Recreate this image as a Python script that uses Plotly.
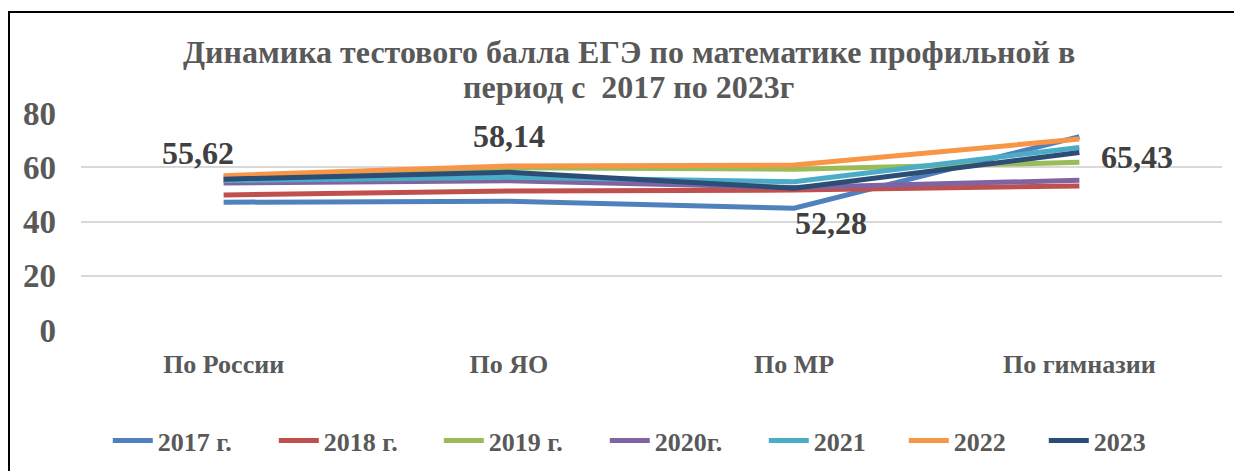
import plotly.graph_objects as go

# categories and values
categories = ["По России", "По ЯО", "По МР", "По гимназии"]
series_names = ["2017 г.", "2018 г.", "2019 г.", "2020г.", "2021", "2022", "2023"]
v2017 = [47.1, 47.5, 44.9, 71.3]
v2018 = [49.8, 51.2, 51.6, 53.1]
v2019 = [56.5, 59.8, 59.3, 61.8]
v2020 = [54.2, 55.0, 52.5, 55.2]
v2021 = [55.1, 56.3, 54.7, 67.3]
v2022 = [56.9, 60.5, 60.8, 70.4]
v2023 = [55.62, 58.14, 52.28, 65.43]
label_text = ["55,62", "58,14", "52,28", "65,43"]
title_lines = ["Динамика тестового балла ЕГЭ по математике профильной в",
               "период с  2017 по 2023г"]

colors = ["#4F81BD", "#C0504D", "#9BBB59", "#8064A2", "#4BACC6", "#F79646", "#2C4D75"]
legend_widths = [111, 110, 111, 104, 85, 85, 85]
all_values = [v2017, v2018, v2019, v2020, v2021, v2022, v2023]

serif = "Liberation Serif, Times New Roman, serif"
grey = "#595959"

fig = go.Figure()
for name, vals, col, lw in zip(series_names, all_values, colors, legend_widths):
    fig.add_trace(go.Scatter(x=categories, y=vals, mode="lines", name=name,
                             line=dict(color=col, width=5), legendwidth=lw))

# data labels for the 2023 series
shifts = [(-26, 26), (0, 36), (37, -35), (58, -4)]
for cat, val, txt, (dx, dy) in zip(categories, v2023, label_text, shifts):
    fig.add_annotation(x=cat, y=val, text="<b>" + txt + "</b>", showarrow=False,
                       xshift=dx, yshift=dy,
                       font=dict(family=serif, size=32, color="#404040"))

# title, two lines placed separately to keep the tight line spacing
for line, ty in zip(title_lines, [1.281, 1.122]):
    fig.add_annotation(xref="paper", yref="paper", x=0.480, y=ty,
                       xanchor="center", yanchor="middle", showarrow=False,
                       text="<b>" + line + "</b>",
                       font=dict(family=serif, size=32, color=grey))

# page body adds an 8px offset, so the figure is 8px smaller and shifted
fig.update_layout(
    width=1234, height=463,
    margin=dict(l=73, r=20, t=105, b=141, autoexpand=False),
    paper_bgcolor="white", plot_bgcolor="white",
    legend=dict(orientation="h", x=0.495, xanchor="center", y=-0.51, yanchor="middle",
                font=dict(family=serif, size=26, color=grey, weight="bold"),
                itemwidth=40, traceorder="normal"),
    showlegend=True,
    shapes=[dict(type="rect", xref="paper", yref="paper",
                 x0=-0.0631, x1=1.2, y0=-2, y1=1.465,
                 line=dict(color="black", width=2))],
)
fig.update_xaxes(range=[-0.5, 3.5], showgrid=False, showline=False, ticks="",
                 ticklabelstandoff=16, automargin=False,
                 tickfont=dict(family=serif, size=26, color=grey, weight="bold"))
fig.update_yaxes(range=[0, 80], dtick=20, showgrid=True, gridcolor="#D9D9D9", gridwidth=2,
                 zeroline=False, ticks="", ticklabelstandoff=24, automargin=False,
                 tickfont=dict(family=serif, size=33, color=grey, weight="bold"))

fig.write_html("out.html")
